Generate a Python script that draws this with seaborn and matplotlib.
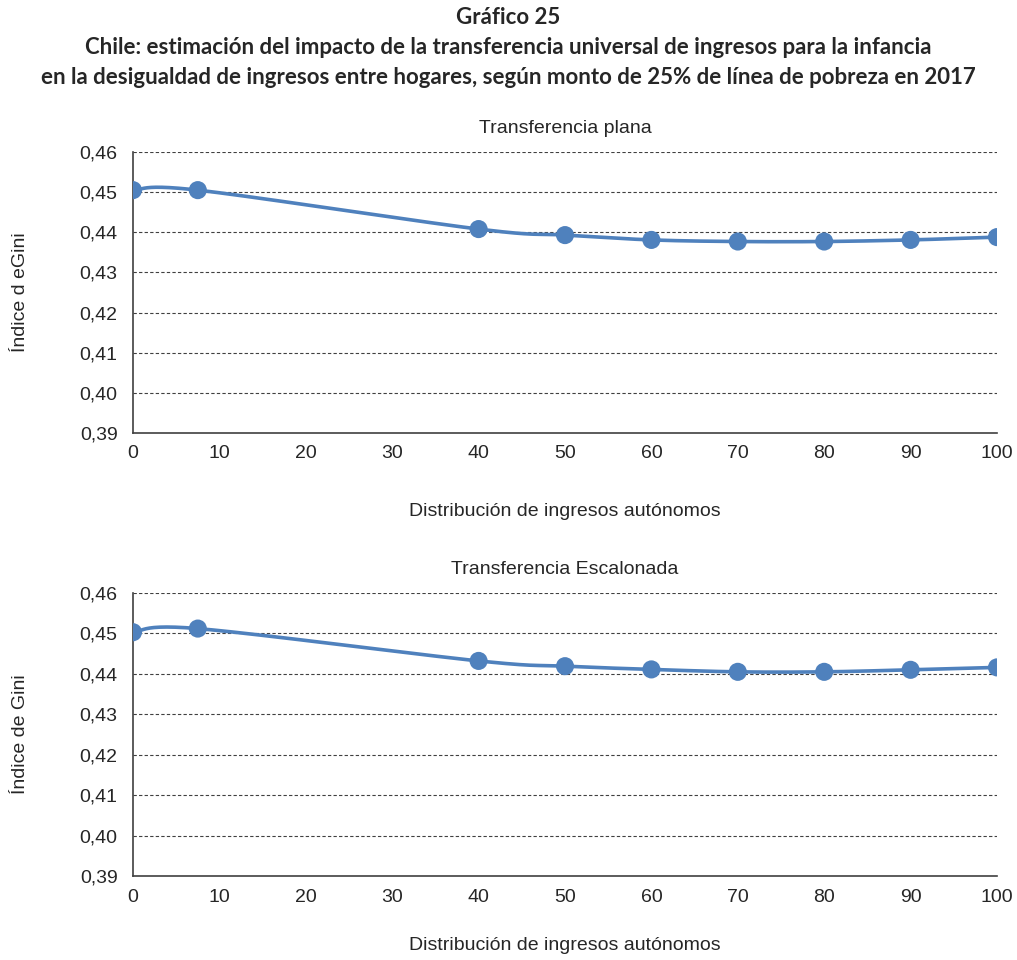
import numpy as np
import pandas as pd
import matplotlib
matplotlib.use("Agg")
import matplotlib.pyplot as plt
import seaborn as sns

# data
percentil = [0, 7.5, 40, 50, 60, 70, 80, 90, 100]
gini_plana = [0.4505, 0.4505, 0.4408, 0.4393, 0.4381, 0.4377, 0.4377, 0.4381, 0.4388]
gini_escalonada = [0.4503, 0.4512, 0.4432, 0.4419, 0.4411, 0.4405, 0.4405, 0.4410, 0.4416]

panel_titles = ["Transferencia plana", "Transferencia Escalonada"]
y_labels = ["Índice d eGini", "Índice de Gini"]
x_label = "Distribución de ingresos autónomos"
y_ticks = [0.39, 0.40, 0.41, 0.42, 0.43, 0.44, 0.45, 0.46]
x_ticks = list(range(0, 101, 10))

title_lines = [
    "Gráfico 25",
    "Chile: estimación del impacto de la transferencia universal de ingresos para la infancia",
    "en la desigualdad de ingresos entre hogares, según monto de 25% de línea de pobreza en 2017",
]

BLUE = "#4F81BD"


def smooth(x, y, n=40):
    # excel style smoothed line (bezier through the points)
    P = np.column_stack([np.asarray(x, float), np.asarray(y, float)])
    Pe = np.vstack([P[0], P, P[-1]])
    out = []
    for i in range(len(P) - 1):
        p0, p1, p2, p3 = Pe[i], Pe[i + 1], Pe[i + 2], Pe[i + 3]
        c1 = p1 + (p2 - p0) / 6
        c2 = p2 - (p3 - p1) / 6
        t = np.linspace(0, 1, n)[:, None]
        seg = (1 - t) ** 3 * p1 + 3 * (1 - t) ** 2 * t * c1 + 3 * (1 - t) * t ** 2 * c2 + t ** 3 * p2
        out.append(seg if i == 0 else seg[1:])
    seg = np.vstack(out)
    return pd.DataFrame({"x": seg[:, 0], "y": seg[:, 1]})


sns.set_style("white")
plt.rcParams["font.family"] = ["Liberation Sans", "DejaVu Sans"]

fig = plt.figure(figsize=(10.17, 9.6), dpi=100)
W, H = 1017, 960
ax_top = fig.add_axes([133 / W, 1 - 433 / H, 864 / W, 281 / H])
ax_bot = fig.add_axes([133 / W, 1 - 876 / H, 864 / W, 283 / H])

# pixel gap between the axis and the centre of the x label, per panel
xlabel_gap = [78, 70]

for ax, vals, ttl, ylab, gap in zip([ax_top, ax_bot], [gini_plana, gini_escalonada],
                                    panel_titles, y_labels, xlabel_gap):
    df = pd.DataFrame({"x": percentil, "y": vals})
    curve = smooth(percentil, vals)
    sns.lineplot(data=curve, x="x", y="y", ax=ax, sort=False, color=BLUE, lw=2.6, zorder=3)
    sns.scatterplot(data=df, x="x", y="y", ax=ax, color=BLUE, s=170, edgecolor="none", zorder=4)

    ax.set_xlim(0, 100)
    ax.set_ylim(0.39, 0.46)
    ax.set_xticks(x_ticks)
    ax.set_yticks(y_ticks)
    ax.set_yticklabels([f"{v:.2f}".replace(".", ",") for v in y_ticks])
    for v in y_ticks[1:]:
        ax.axhline(v, color="#404040", lw=0.8, ls=(0, (3, 2)), zorder=1)

    ax.tick_params(axis="y", direction="out", length=6, width=1, color="#404040", labelsize=14, pad=5)
    ax.tick_params(axis="x", direction="in", length=5, width=1, color="#404040", labelsize=14, pad=9)
    for side in ["top", "right"]:
        ax.spines[side].set_visible(False)
    for side in ["left", "bottom"]:
        ax.spines[side].set_color("#404040")
        ax.spines[side].set_linewidth(1.2)

    ax.set_title(ttl, fontsize=14, pad=14)
    ax.set_ylabel(ylab, fontsize=14)
    ax.yaxis.set_label_coords(-104 / 864, 0.5)
    ax.set_xlabel(x_label, fontsize=14, va="center")
    ax.xaxis.set_label_coords(0.5, -gap / ax.bbox.height)

for i, line in enumerate(title_lines):
    fig.text(0.5, 1 - (18 + 30 * i) / H, line, ha="center", va="center",
             fontsize=16, fontweight="bold", family=["Lato", "DejaVu Sans"])

fig.savefig("out.png", dpi=100)
